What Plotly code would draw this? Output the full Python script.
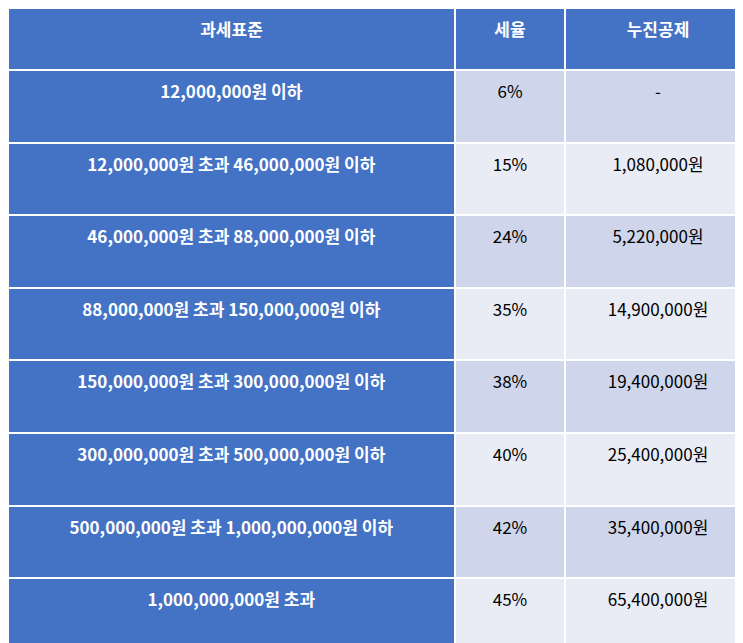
import plotly.graph_objects as go

headers = ["과세표준", "세율", "누진공제"]
brackets = ["12,000,000원 이하", "12,000,000원 초과 46,000,000원 이하", "46,000,000원 초과 88,000,000원 이하",
            "88,000,000원 초과 150,000,000원 이하", "150,000,000원 초과 300,000,000원 이하",
            "300,000,000원 초과 500,000,000원 이하", "500,000,000원 초과 1,000,000,000원 이하",
            "1,000,000,000원 초과"]
rates = ["6%", "15%", "24%", "35%", "38%", "40%", "42%", "45%"]
deductions = ["-", "1,080,000원", "5,220,000원", "14,900,000원", "19,400,000원",
              "25,400,000원", "35,400,000원", "65,400,000원"]

blue = "#4472C4"
alt = ["#CFD5EA" if i % 2 == 0 else "#E9EBF5" for i in range(len(rates))]
font = "Noto Sans CJK KR"

fig = go.Figure(go.Table(
    domain=dict(x=[0, 1], y=[0, 1]),
    columnwidth=[447, 110, 186],
    header=dict(values=[f"<b>{h}</b>" for h in headers], fill_color=blue,
                line=dict(color="white", width=2), height=62,
                font=dict(color="white", size=17, family=font), align="center"),
    cells=dict(values=[[f"<br><b>{b}</b>" for b in brackets],
                       [f"<br>{r}" for r in rates],
                       [f"<br>{d}" for d in deductions]],
               fill_color=[[blue] * len(brackets), alt, alt],
               line=dict(color="white", width=2), height=72.6,
               font=dict(color=[["white"] * len(brackets), ["black"] * 8, ["black"] * 8],
                         size=17, family=font), align="center"),
))
fig.update_layout(width=743, height=643, margin=dict(l=0, r=0, t=0, b=0, pad=0),
                  paper_bgcolor="white")
fig.write_html("out.html")
